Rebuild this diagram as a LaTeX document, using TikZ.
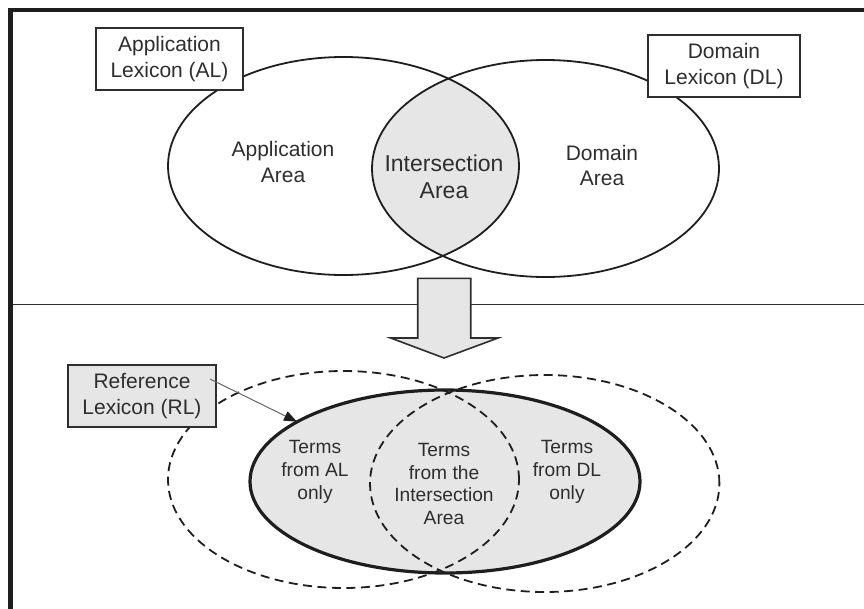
\documentclass[tikz,border=0pt]{standalone}
\usepackage{fontspec}
\setmainfont{Liberation Sans}
\usetikzlibrary{shapes.geometric,arrows.meta,calc}
\definecolor{lightfill}{HTML}{E6E6E6}
\definecolor{ink}{HTML}{2E2E2E}
\definecolor{linecol}{HTML}{1E1E1E}
\begin{document}
\begin{tikzpicture}[x=1pt,y=-1pt,
  lbl/.style={font=\fontsize{21}{25.5}\selectfont, text=ink, align=center},
  lexbox/.style={draw=ink, line width=1.6pt, fill=white, minimum width=147pt, minimum height=62pt, inner sep=0pt, lbl},
  smalllbl/.style={font=\fontsize{19.2}{22.8}\selectfont, text=ink, align=center},
  venn/.style={draw=linecol, line width=1.8pt},
  dashvenn/.style={draw=linecol, line width=1.8pt, dash pattern=on 9pt off 5.5pt},
]
\useasboundingbox (0,0) rectangle (864,608);
% frame
\draw[line width=4.5pt, linecol, line join=miter] (10.5,612) -- (10.5,10) -- (868,10);

% top venn
\begin{scope}
\clip (343.5,166) ellipse [x radius=175.5pt, y radius=109pt];
\fill[lightfill] (545.5,168.5) ellipse [x radius=173.5pt, y radius=108.5pt];
\end{scope}
\draw[venn] (343.5,166) ellipse [x radius=175.5pt, y radius=109pt];
\draw[venn] (545.5,168.5) ellipse [x radius=173.5pt, y radius=108.5pt];

\node[lexbox] (AL) at (169.5,59) {Application\\Lexicon (AL)};
\node[lexbox, minimum width=152pt] (DL) at (724,66) {Domain\\Lexicon (DL)};

\node[lbl] (apparea) at (283,162) {Application\\Area};
\node[lbl, font=\fontsize{23}{27}\selectfont] (intarea) at (444,177) {Intersection\\Area};
\node[lbl] (domarea) at (602,165.5) {Domain\\Area};

% separator and block arrow
\draw[line width=1.6pt, ink] (13,304.5) -- (868,304.5);
\draw[fill=lightfill, draw=ink, line width=1.6pt, line join=miter]
  (417.7,278.3) -- (470.7,278.3) -- (470.7,338) -- (498,338) -- (444,358)
  -- (390.7,338) -- (417.7,338) -- cycle;

% bottom venn
\node[ellipse, fill=lightfill, minimum width=390pt, minimum height=183pt, inner sep=0pt] (RLell) at (445,481.5) {};
\draw[dashvenn] (343.5,479.5) ellipse [x radius=175.5pt, y radius=108.5pt];
\draw[dashvenn] (544.7,483.5) ellipse [x radius=174.7pt, y radius=108.5pt];
\draw[linecol, line width=3.2pt] (RLell.center) ellipse [x radius=195pt, y radius=91.5pt];

\node[smalllbl] (tAL) at (315,471.7) {Terms\\from AL\\only};
\node[smalllbl] (tInt) at (444,484) {Terms\\from the\\Intersection\\Area};
\node[smalllbl] (tDL) at (567,471.7) {Terms\\from DL\\only};

\node[lexbox, fill=lightfill, minimum width=148pt] (RL) at (142,396) {Reference\\Lexicon (RL)};
\coordinate (RLstart) at (210,379);
\draw[-{Triangle[length=13pt,width=10pt,color=linecol]}, draw=gray!80!black, line width=1pt] (RLstart) -- (RLell.158);
\end{tikzpicture}
\end{document}
